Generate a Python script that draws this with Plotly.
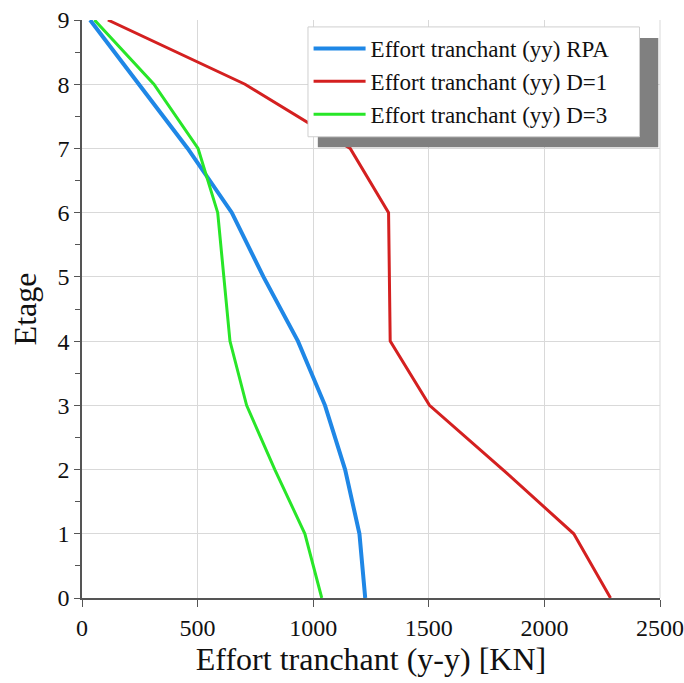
import plotly.graph_objects as go

# Storey levels and shear forces (kN) for the three analyses
etages = [0, 1, 2, 3, 4, 5, 6, 7, 8, 9]
effort_rpa = [1225, 1200, 1138, 1051, 934, 785, 648, 457, 246, 35]
effort_d1 = [2286, 2127, 1820, 1503, 1333, 1330, 1326, 1160, 705, 112]
effort_d3 = [1037, 964, 834, 712, 640, 613, 587, 502, 311, 54]

series = [
    ("Effort tranchant (yy) RPA", effort_rpa, "#1f87e6", 4),
    ("Effort tranchant (yy) D=1", effort_d1, "#d42020", 3),
    ("Effort tranchant (yy) D=3", effort_d3, "#28e628", 3),
]

fig = go.Figure()
for name, values, color, width in series:
    fig.add_trace(go.Scatter(
        x=values, y=etages, mode="lines", name=name,
        line=dict(color=color, width=width),
    ))

serif = "'Liberation Serif', 'Times New Roman', Times, serif"

fig.update_layout(
    width=684, height=683,
    margin=dict(l=82, r=24, t=20, b=85),
    paper_bgcolor="white", plot_bgcolor="white",
    font=dict(family=serif, color="#111111"),
    showlegend=True,
    legend=dict(
        x=0.392, y=0.988, xanchor="left", yanchor="top",
        bgcolor="rgba(0,0,0,0)", borderwidth=0,
        font=dict(family=serif, size=23, color="#111111"),
        itemwidth=52, tracegroupgap=0,
    ),
    xaxis=dict(
        range=[0, 2500], tickvals=[0, 500, 1000, 1500, 2000, 2500],
        showgrid=True, gridcolor="#d9d9d9", gridwidth=1,
        showline=True, linecolor="#555555", linewidth=1.5,
        ticks="outside", ticklen=7, tickcolor="#555555",
        tickfont=dict(family=serif, size=24, color="#111111"),
        title=dict(text="Effort tranchant (y-y) [KN]",
                   font=dict(family=serif, size=32, color="#111111"),
                   standoff=2),
        zeroline=False, automargin=False,
    ),
    yaxis=dict(
        range=[0, 9], tickvals=list(range(10)),
        showgrid=True, gridcolor="#d9d9d9", gridwidth=1,
        showline=True, linecolor="#555555", linewidth=1.5,
        ticks="outside", ticklen=6, tickcolor="#555555",
        tickfont=dict(family=serif, size=24, color="#111111"),
        minor=dict(dtick=0.5, ticks="outside", ticklen=5,
                   tickcolor="#555555", showgrid=False),
        title=dict(text="Etage",
                   font=dict(family=serif, size=32, color="#111111"),
                   standoff=11),
        zeroline=False, automargin=False,
    ),
    shapes=[
        # gray drop shadow of the legend panel
        dict(type="rect", xref="paper", yref="paper",
             x0=0.408, x1=0.997, y0=0.780, y1=0.969,
             fillcolor="#808080", line=dict(width=0), layer="above"),
        # white legend panel with a thin border
        dict(type="rect", xref="paper", yref="paper",
             x0=0.391, x1=0.9645, y0=0.798, y1=0.988,
             fillcolor="white", line=dict(color="#cfcfcf", width=1),
             layer="above"),
        # light frame on the right of the plot area
        dict(type="line", xref="paper", yref="paper",
             x0=1, x1=1, y0=0, y1=1, line=dict(color="#d9d9d9", width=1)),
    ],
)

fig.write_html("out.html")
